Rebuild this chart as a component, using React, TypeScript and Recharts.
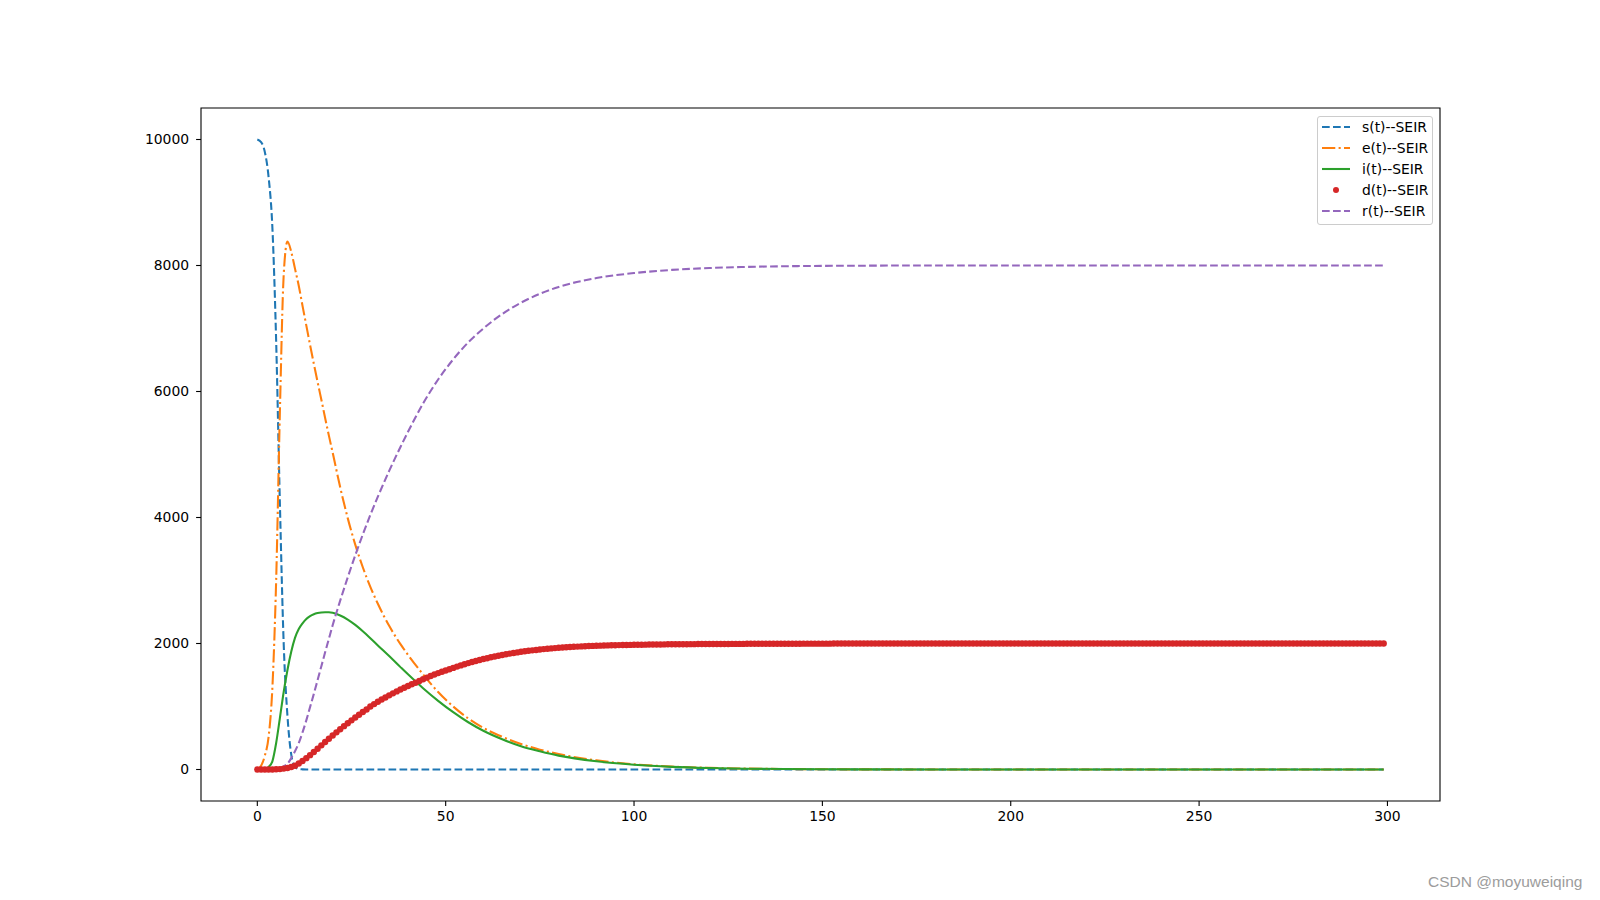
import { LineChart, Line, XAxis, YAxis, ReferenceArea } from "recharts";

// time axis for the dotted d(t) series (one point per day)
const days = Array.from({ length: 300 }, (_, k) => k);

// sample days used for the smooth curves
const lineDays = [
  0, 1, 2, 3, 4, 5, 6, 7, 8, 9, 10, 11, 12, 13, 14, 15, 16, 17, 18, 19, 20,
  22, 24, 26, 28, 30, 32, 35, 38, 40, 44, 48, 52, 56, 60, 65, 70, 75, 80,
  90, 100, 110, 120, 130, 140, 150, 160, 180, 200, 250, 299,
];

const sValues = [
  10000, 9960, 9800, 9400, 8600, 6800, 4200, 2000, 850, 240, 40, 8, 2, 0, 0, 0, 0, 0, 0, 0, 0,
  0, 0, 0, 0, 0, 0, 0, 0, 0, 0, 0, 0, 0, 0, 0, 0, 0, 0,
  0, 0, 0, 0, 0, 0, 0, 0, 0, 0, 0, 0,
];

const eValues = [
  0, 60, 220, 520, 1300, 3000, 5700, 7850, 8380, 8220, 7950, 7680, 7360, 7050, 6740, 6440, 6150, 5870, 5580, 5300, 5030,
  4480, 3990, 3570, 3210, 2900, 2630, 2280, 1990, 1820, 1510, 1230, 1000, 810, 660, 520, 405, 315, 245,
  145, 82, 46, 26, 14, 8, 4, 2, 1, 0, 0, 0,
];

const iValues = [
  0, 2, 10, 40, 130, 420, 820, 1230, 1580, 1870, 2090, 2230, 2320, 2390, 2435, 2465, 2483, 2493, 2497, 2496, 2488,
  2445, 2380, 2295, 2195, 2085, 1970, 1800, 1625, 1510, 1290, 1090, 910, 750, 615, 480, 370, 290, 220,
  130, 75, 42, 23, 13, 7, 4, 2, 1, 0, 0, 0,
];

const rValues = [
  0, 0, 0, 1, 3, 10, 25, 50, 90, 180, 290, 420, 590, 780, 990, 1200, 1420, 1640, 1860, 2075, 2290,
  2680, 3050, 3400, 3730, 4040, 4330, 4740, 5120, 5360, 5810, 6190, 6510, 6780, 7000, 7230, 7410, 7550, 7660,
  7800, 7880, 7930, 7960, 7978, 7988, 7994, 7997, 8000, 8000, 8000, 8000,
];

// d(t), one value per day 0..299
const dValues = [
  0, 0, 0, 0, 1, 3, 6, 14, 25, 40,
  60, 95, 135, 180, 228, 278, 330, 383, 436, 488,
  540, 590, 640, 688, 735, 780, 826, 870, 912, 952,
  1000, 1038, 1075, 1110, 1144, 1177, 1209, 1240, 1270, 1298,
  1325, 1352, 1378, 1405, 1432, 1458, 1483, 1507, 1530, 1551,
  1572, 1592, 1613, 1633, 1652, 1671, 1689, 1706, 1722, 1738,
  1753, 1767, 1781, 1794, 1806, 1818, 1829, 1840, 1850, 1859,
  1868, 1876, 1884, 1891, 1898, 1905, 1911, 1917, 1922, 1927,
  1932, 1936, 1940, 1944, 1948, 1951, 1954, 1957, 1960, 1962,
  1964, 1966, 1968, 1970, 1972, 1973, 1975, 1976, 1977, 1978,
  1979, 1980, 1981, 1982, 1983, 1984, 1985, 1985, 1986, 1987,
  1987, 1988, 1988, 1989, 1989, 1990, 1990, 1991, 1991, 1991,
  1992, 1992, 1992, 1993, 1993, 1993, 1994, 1994, 1994, 1994,
  1995, 1995, 1995, 1995, 1996, 1996, 1996, 1996, 1996, 1997,
  1997, 1997, 1997, 1997, 1997, 1998, 1998, 1998, 1998, 1998,
  1998, 1998, 1998, 1999, 1999, 1999, 1999, 1999, 1999, 1999,
  1999, 2000, 2000, 2000, 2000, 2000, 2000, 2000, 2000, 2000,
  2000, 2000, 2000, 2000, 2000, 2000, 2000, 2000, 2000, 2000,
  2000, 2000, 2000, 2000, 2000, 2000, 2000, 2000, 2000, 2000,
  2000, 2000, 2000, 2000, 2000, 2000, 2000, 2000, 2000, 2000,
  2000, 2000, 2000, 2000, 2000, 2000, 2000, 2000, 2000, 2000,
  2000, 2000, 2000, 2000, 2000, 2000, 2000, 2000, 2000, 2000,
  2000, 2000, 2000, 2000, 2000, 2000, 2000, 2000, 2000, 2000,
  2000, 2000, 2000, 2000, 2000, 2000, 2000, 2000, 2000, 2000,
  2000, 2000, 2000, 2000, 2000, 2000, 2000, 2000, 2000, 2000,
  2000, 2000, 2000, 2000, 2000, 2000, 2000, 2000, 2000, 2000,
  2000, 2000, 2000, 2000, 2000, 2000, 2000, 2000, 2000, 2000,
  2000, 2000, 2000, 2000, 2000, 2000, 2000, 2000, 2000, 2000,
  2000, 2000, 2000, 2000, 2000, 2000, 2000, 2000, 2000, 2000,
  2000, 2000, 2000, 2000, 2000, 2000, 2000, 2000, 2000, 2000,
];

const xTicks = [0, 50, 100, 150, 200, 250, 300];
const yTicks = [0, 2000, 4000, 6000, 8000, 10000];

const seriesLabels = ["s(t)--SEIR", "e(t)--SEIR", "i(t)--SEIR", "d(t)--SEIR", "r(t)--SEIR"];

const table = days.map((t) => {
  const row: Record<string, number> = { t, d: dValues[t] };
  const k = lineDays.indexOf(t);
  if (k >= 0) {
    row.s = sValues[k];
    row.e = eValues[k];
    row.i = iValues[k];
    row.r = rValues[k];
  }
  return row;
});

const FONT = "'DejaVu Sans', sans-serif";
const tickStyle = { fontSize: 13.9, fill: "#000", fontFamily: FONT };
const tickLine = { stroke: "#000", strokeWidth: 1.1 };

const legendRows = [
  { label: seriesLabels[0], color: "#1f77b4", dash: "7.7 3.3", kind: "line" },
  { label: seriesLabels[1], color: "#ff7f0e", dash: "13.3 3.3 2.1 3.3", kind: "line" },
  { label: seriesLabels[2], color: "#2ca02c", dash: undefined, kind: "line" },
  { label: seriesLabels[3], color: "#d62728", dash: undefined, kind: "dot" },
  { label: seriesLabels[4], color: "#9467bd", dash: "7.7 3.3", kind: "line" },
];

const SeirLegend = () => (
  <div
    style={{
      position: "absolute",
      left: 1317,
      top: 116,
      width: 114,
      height: 107,
      border: "1px solid #cccccc",
      borderRadius: 3,
      background: "rgba(255,255,255,0.8)",
      fontFamily: FONT,
      fontSize: 13.9,
      color: "#000",
    }}
  >
    {legendRows.map((row) => (
      <div key={row.label} style={{ display: "flex", alignItems: "center", height: 20.9 }}>
        <svg width={28} height={10} style={{ marginLeft: 4, marginRight: 12 }}>
          {row.kind === "dot" ? (
            <circle cx={14} cy={5} r={3} fill={row.color} />
          ) : (
            <line x1={0} y1={5} x2={28} y2={5} stroke={row.color} strokeWidth={2.08} strokeDasharray={row.dash} />
          )}
        </svg>
        <span>{row.label}</span>
      </div>
    ))}
  </div>
);

export default function App() {
  return (
    <div style={{ position: "absolute", left: 0, top: 0, width: 1600, height: 900, background: "#fff" }}>
      <LineChart width={1600} height={900} data={table} margin={{ top: 108, right: 160, bottom: 59, left: 0 }}>
        <XAxis
          type="number"
          dataKey="t"
          domain={[-14.95, 313.95]}
          allowDataOverflow
          ticks={xTicks}
          tick={tickStyle}
          tickLine={tickLine}
          axisLine={false}
          tickSize={4.9}
          tickMargin={5}
          height={40}
        />
        <YAxis
          type="number"
          domain={[-500, 10500]}
          allowDataOverflow
          ticks={yTicks}
          tick={tickStyle}
          tickLine={tickLine}
          axisLine={false}
          tickSize={4.9}
          tickMargin={7}
          width={201}
        />
        <ReferenceArea x1={-14.95} x2={313.95} y1={-500} y2={10500} fill="none" stroke="#000" strokeWidth={1.1} />
        <Line dataKey="s" type="monotone" stroke="#1f77b4" strokeWidth={2.08} strokeDasharray="7.7 3.3" dot={false} connectNulls isAnimationActive={false} />
        <Line dataKey="e" type="monotone" stroke="#ff7f0e" strokeWidth={2.08} strokeDasharray="13.3 3.3 2.1 3.3" dot={false} connectNulls isAnimationActive={false} />
        <Line dataKey="i" type="monotone" stroke="#2ca02c" strokeWidth={2.08} dot={false} connectNulls isAnimationActive={false} />
        <Line dataKey="d" type="linear" stroke="none" dot={{ r: 3.2, fill: "#d62728", stroke: "none" }} activeDot={false} isAnimationActive={false} />
        <Line dataKey="r" type="monotone" stroke="#9467bd" strokeWidth={2.08} strokeDasharray="7.7 3.3" dot={false} connectNulls isAnimationActive={false} />
      </LineChart>
      <SeirLegend />
      <div
        style={{
          position: "absolute",
          left: 1428,
          top: 873,
          fontFamily: "'Liberation Sans', Arial, sans-serif",
          fontSize: 15.5,
          lineHeight: "18px",
          color: "#9c9c9c",
          whiteSpace: "nowrap",
        }}
      >
        CSDN @moyuweiqing
      </div>
    </div>
  );
}
